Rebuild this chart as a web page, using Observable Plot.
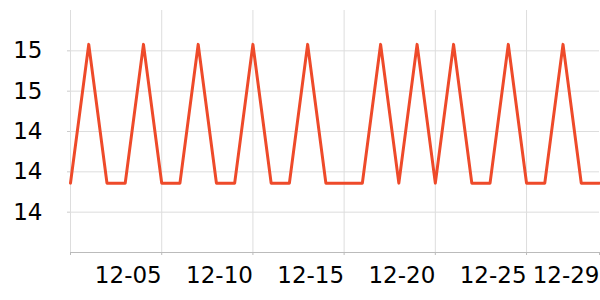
<!DOCTYPE html>
<html>
<head>
<meta charset="utf-8">
<script src="https://cdn.jsdelivr.net/npm/d3@7"></script>
<script src="https://cdn.jsdelivr.net/npm/@observablehq/plot@0.6"></script>
<style>
  html, body { margin: 0; padding: 0; background: #fff; }
  #chart { width: 600px; height: 300px; }
</style>
</head>
<body>
<div id="chart"></div>
<script>
// Data
const dates = [
  "2023-11-30","2023-12-01","2023-12-02","2023-12-03","2023-12-04","2023-12-05",
  "2023-12-06","2023-12-07","2023-12-08","2023-12-09","2023-12-10","2023-12-11",
  "2023-12-12","2023-12-13","2023-12-14","2023-12-15","2023-12-16","2023-12-17",
  "2023-12-18","2023-12-19","2023-12-20","2023-12-21","2023-12-22","2023-12-23",
  "2023-12-24","2023-12-25","2023-12-26","2023-12-27","2023-12-28","2023-12-29"
];
const values = [
  14.18, 15.04, 14.18, 14.18, 15.04, 14.18,
  14.18, 15.04, 14.18, 14.18, 15.04, 14.18,
  14.18, 15.04, 14.18, 14.18, 14.18, 15.04,
  14.18, 15.04, 14.18, 15.04, 14.18, 14.18,
  15.04, 14.18, 14.18, 15.04, 14.18, 14.18
];
const yTicks = [14, 14.25, 14.5, 14.75, 15];
const yTickLabels = ["14", "14", "14", "15", "15"];
const xGridDates = ["2023-11-30","2023-12-05","2023-12-10","2023-12-15","2023-12-20","2023-12-25"];
const xTickDates = ["2023-11-30","2023-12-05","2023-12-10","2023-12-15","2023-12-20","2023-12-25","2023-12-29"];
const xTickLabels = ["", "12-05", "12-10", "12-15", "12-20", "12-25", "12-29"];
const yDomain = [13.75, 15.25];

const parse = d3.utcParse("%Y-%m-%d");
const data = dates.map((d, i) => ({date: parse(d), value: values[i]}));
const xGrid = xGridDates.map(parse);
const xTicks = xTickDates.map(parse);

const chart = Plot.plot({
  width: 600,
  height: 300,
  marginLeft: 70,
  marginRight: 1,
  marginTop: 10,
  marginBottom: 48,
  style: {fontFamily: "DejaVu Sans", fontSize: "23px", background: "#fff", color: "#000"},
  x: {type: "utc", domain: [data[0].date, data[data.length - 1].date]},
  y: {domain: yDomain},
  marks: [
    Plot.gridY(yTicks, {stroke: "#ddd", strokeOpacity: 1}),
    Plot.gridX(xGrid, {stroke: "#ddd", strokeOpacity: 1}),
    Plot.ruleY([yDomain[0]], {stroke: "#bbb"}),
    Plot.axisY(yTicks, {
      tickSize: 3, tickPadding: 25, stroke: "#ccc", fill: "#000",
      tickFormat: d => yTickLabels[yTicks.indexOf(d)], label: null, fontSize: 23
    }),
    Plot.axisX(xTicks, {
      tickSize: 3, tickPadding: 11, stroke: "#bbb", fill: "#000", textAnchor: "end",
      tickFormat: d => xTickLabels[xTicks.findIndex(t => +t === +d)], label: null, fontSize: 23
    }),
    Plot.line(data, {x: "date", y: "value", stroke: "#ee4a2a", strokeWidth: 3})
  ]
});
document.getElementById("chart").append(chart);
</script>
</body>
</html>
